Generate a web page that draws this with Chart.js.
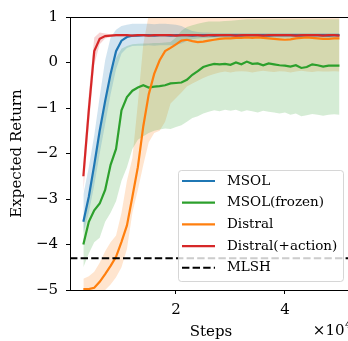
<!DOCTYPE html>
<html>
<head>
<meta charset="utf-8">
<script src="https://cdn.jsdelivr.net/npm/chart.js@4"></script>
<style>
  html, body { margin: 0; padding: 0; background: #fff; overflow: hidden; }
  #wrap { width: 348px; height: 341px; overflow: hidden; }
  canvas { display: block; }
</style>
</head>
<body>
<div id="wrap"><canvas id="chart" width="360" height="341"></canvas></div>
<script>
// ── Data ──────────────────────────────────────────────────────
const steps = [
  3000, 4000, 5000, 6000, 7000, 8000, 9000, 10000, 11000, 12000,
  13000, 14000, 15000, 16000, 17000, 18000, 19000, 20000, 21000, 22000,
  23000, 24000, 25000, 26000, 27000, 28000, 29000, 30000, 31000, 32000,
  33000, 34000, 35000, 36000, 37000, 38000, 39000, 40000, 41000, 42000,
  43000, 44000, 45000, 46000, 47000, 48000, 49000, 50000
];

const msol = [
  -3.5, -2.95, -2.25, -1.5, -0.85, -0.25, 0.25, 0.48, 0.56, 0.59,
  0.59, 0.6, 0.6, 0.59, 0.6, 0.6, 0.59, 0.6, 0.6, 0.6,
  0.59, 0.6, 0.6, 0.6, 0.59, 0.6, 0.6, 0.6, 0.6, 0.59,
  0.6, 0.6, 0.6, 0.6, 0.59, 0.6, 0.6, 0.6, 0.6, 0.6,
  0.59, 0.6, 0.6, 0.6, 0.6, 0.59, 0.6, 0.6
];
const msolHi = [
  -2.9, -2.3, -1.6, -0.75, 0.05, 0.55, 0.72, 0.8, 0.83, 0.85,
  0.85, 0.85, 0.85, 0.84, 0.85, 0.85, 0.84, 0.83, 0.8, 0.74,
  0.69, 0.67, 0.66, 0.66, 0.65, 0.65, 0.65, 0.65, 0.65, 0.65,
  0.65, 0.65, 0.65, 0.65, 0.65, 0.65, 0.65, 0.65, 0.65, 0.65,
  0.65, 0.65, 0.65, 0.65, 0.65, 0.65, 0.65, 0.65
];
const msolLo = [
  -3.75, -3.3, -2.7, -2.0, -1.35, -0.7, -0.15, 0.2, 0.32, 0.36,
  0.37, 0.37, 0.38, 0.37, 0.38, 0.38, 0.38, 0.39, 0.42, 0.47,
  0.51, 0.53, 0.54, 0.54, 0.55, 0.55, 0.55, 0.55, 0.55, 0.55,
  0.55, 0.55, 0.55, 0.55, 0.55, 0.55, 0.55, 0.55, 0.55, 0.55,
  0.55, 0.55, 0.55, 0.55, 0.55, 0.55, 0.55, 0.55
];

const msolFrozen = [
  -4.0, -3.5, -3.25, -3.1, -2.8, -2.25, -1.9, -1.05, -0.76, -0.62,
  -0.55, -0.5, -0.55, -0.53, -0.52, -0.5, -0.46, -0.45, -0.44, -0.38,
  -0.27, -0.19, -0.1, -0.06, -0.03, -0.04, -0.03, -0.05, 0.0, -0.04,
  0.02, -0.03, -0.02, -0.06, -0.02, -0.04, -0.06, -0.07, -0.09, -0.06,
  -0.12, -0.1, -0.04, -0.06, -0.09, -0.07, -0.07, -0.07
];
const msolFrozenHi = [
  -3.5, -2.9, -2.3, -1.6, -0.9, -0.3, 0.1, 0.3, 0.36, 0.4,
  0.41, 0.42, 0.42, 0.43, 0.43, 0.44, 0.45, 0.55, 0.7, 0.78,
  0.82, 0.85, 0.88, 0.9, 0.9, 0.9, 0.91, 0.92, 0.93, 0.94,
  0.95, 0.95, 0.95, 0.95, 0.95, 0.95, 0.95, 0.95, 0.95, 0.95,
  0.95, 0.95, 0.95, 0.95, 0.95, 0.95, 0.95, 0.95
];
const msolFrozenLo = [
  -4.5, -4.2, -3.95, -3.85, -3.5, -3.3, -3.05, -2.6, -2.3, -1.9,
  -1.7, -1.62, -1.55, -1.5, -1.47, -1.45, -1.46, -1.42, -1.38, -1.3,
  -1.22, -1.18, -1.12, -1.08, -1.05, -1.07, -1.04, -1.06, -1.04, -1.08,
  -1.05, -1.07, -1.1, -1.06, -1.08, -1.1, -1.12, -1.1, -1.15, -1.12,
  -1.18, -1.16, -1.13, -1.15, -1.17, -1.15, -1.14, -1.15
];

const distral = [
  -4.98, -4.98, -4.95, -4.82, -4.65, -4.47, -4.27, -3.94, -3.58, -2.95,
  -2.3, -1.4, -0.7, -0.25, 0.05, 0.25, 0.32, 0.4, 0.48, 0.5,
  0.47, 0.45, 0.46, 0.48, 0.5, 0.52, 0.53, 0.53, 0.54, 0.54,
  0.55, 0.54, 0.55, 0.54, 0.53, 0.52, 0.51, 0.5, 0.51, 0.53,
  0.54, 0.55, 0.54, 0.53, 0.52, 0.52, 0.53, 0.53
];
const distralHi = [
  -4.75, -4.7, -4.6, -4.4, -4.15, -3.95, -3.8, -3.3, -2.6, -2.1,
  -0.9, 0.4, 1.05, 1.15, 1.15, 1.15, 1.15, 1.15, 1.15, 1.15,
  1.15, 1.15, 1.15, 1.15, 1.15, 1.15, 1.15, 1.15, 1.15, 1.15,
  1.15, 1.15, 1.15, 1.15, 1.15, 1.15, 1.15, 1.15, 1.15, 1.15,
  1.15, 1.15, 1.15, 1.15, 1.15, 1.15, 1.15, 1.15
];
const distralLo = [
  -5.2, -5.2, -5.2, -5.15, -5.0, -4.88, -4.72, -4.5, -4.1, -3.3,
  -2.8, -2.25, -1.75, -1.55, -1.5, -1.3, -0.9, -0.78, -0.66, -0.53,
  -0.46, -0.4, -0.34, -0.29, -0.25, -0.22, -0.2, -0.22, -0.2, -0.19,
  -0.2, -0.22, -0.2, -0.18, -0.2, -0.21, -0.19, -0.2, -0.22, -0.2,
  -0.18, -0.2, -0.21, -0.19, -0.2, -0.2, -0.19, -0.2
];

const distralAction = [
  -2.5, -1.05, 0.25, 0.52, 0.58, 0.59, 0.6, 0.6, 0.6, 0.59,
  0.6, 0.6, 0.59, 0.6, 0.6, 0.6, 0.6, 0.59, 0.6, 0.6,
  0.6, 0.6, 0.59, 0.6, 0.6, 0.6, 0.6, 0.6, 0.59, 0.6,
  0.6, 0.6, 0.6, 0.59, 0.6, 0.6, 0.6, 0.6, 0.6, 0.59,
  0.6, 0.6, 0.6, 0.6, 0.59, 0.6, 0.6, 0.59
];
const distralActionHi = [
  -2.2, -0.7, 0.55, 0.66, 0.64, 0.62, 0.62, 0.62, 0.62, 0.61,
  0.62, 0.62, 0.61, 0.62, 0.62, 0.62, 0.62, 0.61, 0.62, 0.62,
  0.62, 0.62, 0.61, 0.62, 0.62, 0.62, 0.62, 0.62, 0.61, 0.62,
  0.62, 0.62, 0.62, 0.61, 0.62, 0.62, 0.62, 0.62, 0.62, 0.61,
  0.62, 0.62, 0.62, 0.62, 0.61, 0.62, 0.62, 0.61
];
const distralActionLo = [
  -2.85, -1.4, -0.05, 0.4, 0.53, 0.56, 0.57, 0.57, 0.57, 0.56,
  0.57, 0.57, 0.56, 0.57, 0.57, 0.57, 0.57, 0.56, 0.57, 0.57,
  0.57, 0.57, 0.56, 0.57, 0.57, 0.57, 0.57, 0.57, 0.56, 0.57,
  0.57, 0.57, 0.57, 0.56, 0.57, 0.57, 0.57, 0.57, 0.57, 0.56,
  0.57, 0.57, 0.57, 0.57, 0.56, 0.57, 0.57, 0.56
];

const mlshReturn = -4.3;

const seriesLabels = ['MSOL', 'MSOL(frozen)', 'Distral', 'Distral(+action)', 'MLSH'];
const xTicks = [20000, 40000];
const yTicks = [-5, -4, -3, -2, -1, 0, 1];

// ── Look ──────────────────────────────────────────────────────
const FONT = "'DejaVu Serif', serif";
const X_MIN = 550, X_MAX = 52300;
const BLUE = '#1f77b4', GREEN = '#2ca02c', ORANGE = '#ff7f0e', RED = '#d62728';

function pts(ys) { return steps.map((s, i) => ({ x: s, y: ys[i] })); }

function band(lo, hi, color) {
  return [
    { data: pts(lo), borderWidth: 0, borderColor: 'transparent', pointRadius: 0, fill: false, order: 20 },
    { data: pts(hi), borderWidth: 0, borderColor: 'transparent', pointRadius: 0, fill: '-1', backgroundColor: color, order: 20 }
  ];
}

function line(label, ys, color, order) {
  return { label, data: pts(ys), borderColor: color, borderWidth: 2.2, pointRadius: 0, fill: false, order, legend: true };
}

const datasets = [
  ...band(msolLo, msolHi, 'rgba(31,119,180,0.2)'),
  ...band(msolFrozenLo, msolFrozenHi, 'rgba(44,160,44,0.2)'),
  ...band(distralLo, distralHi, 'rgba(255,127,14,0.2)'),
  ...band(distralActionLo, distralActionHi, 'rgba(214,39,40,0.2)'),
  line(seriesLabels[0], msol, BLUE, 5),
  line(seriesLabels[1], msolFrozen, GREEN, 4),
  line(seriesLabels[2], distral, ORANGE, 3),
  line(seriesLabels[3], distralAction, RED, 2),
  {
    label: seriesLabels[4],
    data: [{ x: X_MIN, y: mlshReturn }, { x: X_MAX, y: mlshReturn }],
    borderColor: '#000', borderWidth: 2, borderDash: [7.4, 3.2],
    pointRadius: 0, fill: false, order: 1, legend: true
  }
];

// ── Frame, offset text and legend box ─────────────────────────
const decor = {
  id: 'decor',
  afterDraw(chart) {
    const { ctx, chartArea: a } = chart;
    ctx.save();
    // top spine
    ctx.strokeStyle = '#000';
    ctx.lineWidth = 1;
    ctx.beginPath();
    ctx.moveTo(a.left, a.top + 0.5);
    ctx.lineTo(a.right, a.top + 0.5);
    ctx.stroke();

    // ×10^4 offset text
    ctx.fillStyle = '#000';
    ctx.textBaseline = 'alphabetic';
    ctx.font = '11px ' + FONT;
    const supW = ctx.measureText('4').width;
    ctx.textAlign = 'right';
    ctx.fillText('4', a.right, 328);
    ctx.font = '15px ' + FONT;
    ctx.fillText('\u00d710', a.right - supW - 0.5, 335);

    // legend
    const items = chart.data.datasets.filter(d => d.legend);
    const w = 165, h = 111;
    const x0 = a.right - 9 - w, y0 = a.bottom - 9 - h;
    ctx.beginPath();
    ctx.roundRect(x0 + 0.5, y0 + 0.5, w, h, 3);
    ctx.fillStyle = 'rgba(255,255,255,0.8)';
    ctx.fill();
    ctx.strokeStyle = 'rgba(204,204,204,0.8)';
    ctx.stroke();

    ctx.font = '13.5px ' + FONT;
    ctx.textAlign = 'left';
    ctx.textBaseline = 'middle';
    items.forEach((d, i) => {
      const y = y0 + 11 + i * 21.7;
      ctx.strokeStyle = d.borderColor;
      ctx.lineWidth = d.borderWidth;
      ctx.setLineDash(d.borderDash || []);
      ctx.beginPath();
      ctx.moveTo(x0 + 4, y);
      ctx.lineTo(x0 + 37, y);
      ctx.stroke();
      ctx.setLineDash([]);
      ctx.fillStyle = '#000';
      ctx.fillText(d.label, x0 + 49, y);
    });
    ctx.restore();
  }
};

const tickFont = { family: FONT, size: 15 };

new Chart(document.getElementById('chart'), {
  type: 'line',
  data: { datasets },
  options: {
    responsive: false,
    animation: false,
    events: [],
    layout: { padding: { top: 11, right: 8, left: 0, bottom: 0 } },
    plugins: { legend: { display: false }, tooltip: { enabled: false } },
    scales: {
      x: {
        type: 'linear',
        min: X_MIN,
        max: X_MAX,
        afterBuildTicks: s => { s.ticks = xTicks.map(v => ({ value: v })); },
        afterFit: s => { s.height = 51; },
        grid: { drawOnChartArea: false, color: '#000', tickLength: 4 },
        border: { color: '#000', width: 1 },
        ticks: { color: '#000', font: tickFont, padding: 7, maxRotation: 0, callback: v => String(v / 1e4) },
        title: { display: true, text: 'Steps', color: '#000', font: tickFont, padding: 0 }
      },
      y: {
        min: -5,
        max: 1,
        afterBuildTicks: s => { s.ticks = yTicks.map(v => ({ value: v })); },
        afterFit: s => { s.width = 70; },
        grid: { drawOnChartArea: false, color: '#000', tickLength: 4 },
        border: { color: '#000', width: 1 },
        ticks: { color: '#000', font: tickFont, padding: 8, callback: v => v < 0 ? '\u2212' + Math.abs(v) : String(v) },
        title: { display: true, text: 'Expected Return', color: '#000', font: tickFont, padding: { top: 8, bottom: 0 } }
      }
    }
  },
  plugins: [decor]
});
</script>
</body>
</html>
